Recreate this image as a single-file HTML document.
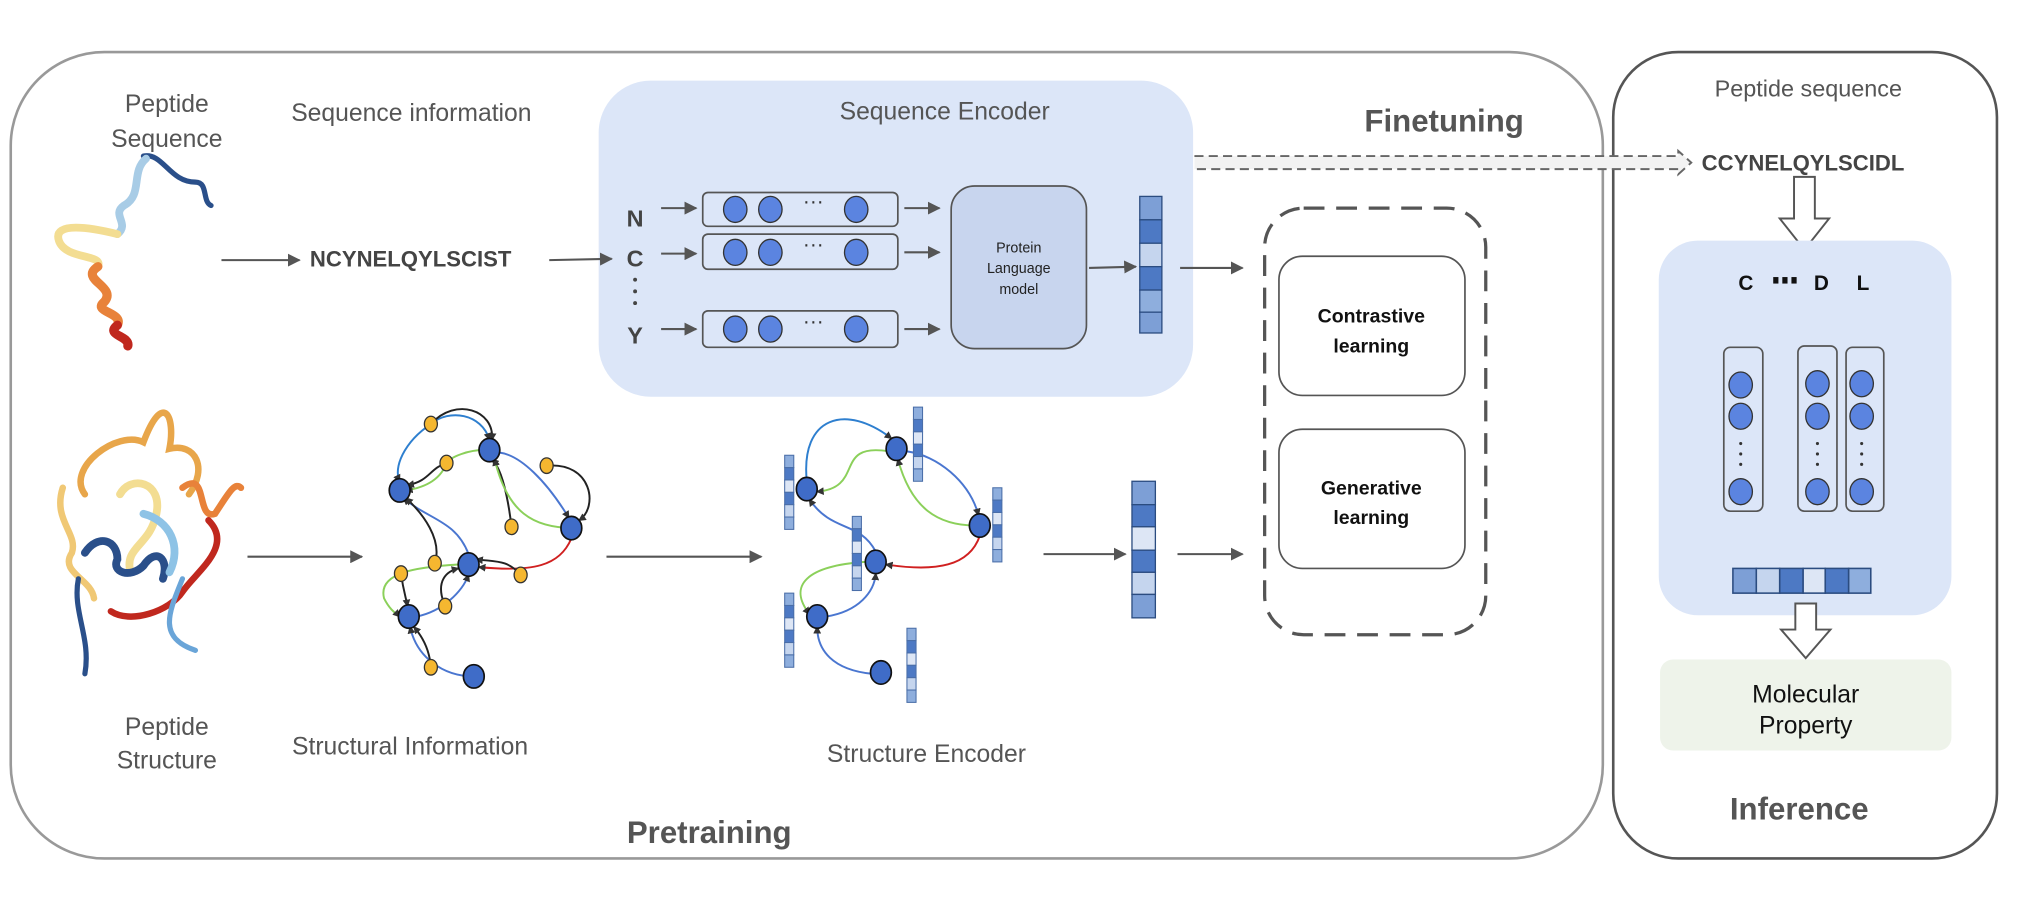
<!DOCTYPE html>
<html><head><meta charset="utf-8"><style>
html,body{margin:0;padding:0;background:#fff;}
svg{display:block;}
text{font-family:"Liberation Sans",sans-serif;}
</style></head><body>
<svg width="2022" height="904" viewBox="0 0 1554 695" xmlns="http://www.w3.org/2000/svg">
<defs>
<marker id="ah" markerWidth="10" markerHeight="10" refX="9" refY="5" orient="auto" markerUnits="userSpaceOnUse"><path d="M0,0 L10,5 L0,10 z" fill="#555"/></marker>
<marker id="sa" markerWidth="6" markerHeight="6" refX="5" refY="3" orient="auto" markerUnits="userSpaceOnUse"><path d="M0,0 L6,3 L0,6 z" fill="#333"/></marker>
</defs>
<rect width="1554" height="695" fill="#fff"/>
<rect x="8" y="40" width="1224" height="620" rx="72" fill="none" stroke="#999" stroke-width="2"/>
<rect x="1240" y="40" width="295" height="620" rx="50" fill="none" stroke="#555" stroke-width="2"/>
<rect x="460" y="62" width="457" height="243" rx="40" fill="#dce6f8"/>
<g fill="#555" font-size="19" text-anchor="middle">
<text x="128" y="86">Peptide</text><text x="128" y="113">Sequence</text>
<text x="316" y="93">Sequence information</text>
<text x="726" y="92">Sequence Encoder</text>
<text x="128" y="565">Peptide</text><text x="128" y="591">Structure</text>
<text x="315" y="580">Structural Information</text>
<text x="712" y="586">Structure Encoder</text>
<text x="1390" y="74" font-size="18">Peptide sequence</text>
</g>
<g fill="#555" font-size="24" font-weight="bold" text-anchor="middle">
<text x="1110" y="101">Finetuning</text>
<text x="545" y="648">Pretraining</text>
<text x="1383" y="630">Inference</text>
</g>
<g fill="none" stroke-linecap="round">
<path d="M110,120 C125,117 130,140 150,140 C160,140 155,155 162,158" stroke="#2a4f8a" stroke-width="4"/>
<path d="M112,122 C100,132 110,150 95,158 C85,165 100,172 90,180" stroke="#a8cce6" stroke-width="6"/>
<path d="M90,180 C70,175 40,170 45,185 C50,200 80,195 75,205" stroke="#f3dd92" stroke-width="6"/>
<path d="M75,205 C60,215 90,220 80,232 C70,240 95,240 90,250" stroke="#e8823a" stroke-width="7"/>
<path d="M90,250 C80,258 100,258 98,266" stroke="#c0281e" stroke-width="7"/>
</g>
<g stroke="#555" stroke-width="1.6" fill="none" marker-end="url(#ah)">
<line x1="170" y1="200" x2="230" y2="200"/>
<line x1="422" y1="200" x2="470" y2="199"/>
<line x1="508" y1="160" x2="535" y2="160"/>
<line x1="508" y1="195" x2="535" y2="195"/>
<line x1="508" y1="253" x2="535" y2="253"/>
<line x1="695" y1="160" x2="722" y2="160"/>
<line x1="695" y1="194" x2="722" y2="194"/>
<line x1="695" y1="253" x2="722" y2="253"/>
<line x1="837" y1="206" x2="873" y2="205"/>
<line x1="907" y1="206" x2="955" y2="206"/>
<line x1="190" y1="428" x2="278" y2="428"/>
<line x1="466" y1="428" x2="585" y2="428"/>
<line x1="802" y1="426" x2="865" y2="426"/>
<line x1="905" y1="426" x2="955" y2="426"/>
<line x1="1342" y1="232" x2="1342" y2="262"/>
<line x1="1400" y1="232" x2="1400" y2="262"/>
<line x1="1432" y1="232" x2="1432" y2="262"/>
<line x1="1337" y1="398" x2="1337" y2="428"/>
<line x1="1398" y1="398" x2="1398" y2="428"/>
<line x1="1431" y1="398" x2="1431" y2="428"/>
</g>
<text x="238" y="205" font-size="17" font-weight="bold" fill="#444">NCYNELQYLSCIST</text>
<g font-size="18" font-weight="bold" fill="#444" text-anchor="middle">
<text x="488" y="174">N</text><text x="488" y="205">C</text><text x="488" y="264">Y</text>
</g>
<g fill="#444"><circle cx="488" cy="215" r="1.5"/><circle cx="488" cy="224" r="1.5"/><circle cx="488" cy="233" r="1.5"/></g>
<g>
<rect x="540" y="148" width="150" height="26" rx="4" fill="#dce6f8" stroke="#555" stroke-width="1.3"/>
<rect x="540" y="180" width="150" height="27" rx="4" fill="#dce6f8" stroke="#555" stroke-width="1.3"/>
<rect x="540" y="239" width="150" height="28" rx="4" fill="#dce6f8" stroke="#555" stroke-width="1.3"/>
</g>
<g fill="#5b84e0" stroke="#333" stroke-width="1">
<ellipse cx="565" cy="161" rx="9" ry="10"/><ellipse cx="592" cy="161" rx="9" ry="10"/><ellipse cx="658" cy="161" rx="9" ry="10"/>
<ellipse cx="565" cy="194" rx="9" ry="10"/><ellipse cx="592" cy="194" rx="9" ry="10"/><ellipse cx="658" cy="194" rx="9" ry="10"/>
<ellipse cx="565" cy="253" rx="9" ry="10"/><ellipse cx="592" cy="253" rx="9" ry="10"/><ellipse cx="658" cy="253" rx="9" ry="10"/>
</g>
<g font-size="16" fill="#333" text-anchor="middle"><text x="625" y="160">···</text><text x="625" y="193">···</text><text x="625" y="252">···</text></g>
<rect x="731" y="143" width="104" height="125" rx="18" fill="#c8d5ee" stroke="#555" stroke-width="1.3"/>
<g font-size="11" fill="#222" text-anchor="middle"><text x="783" y="194">Protein</text><text x="783" y="210">Language</text><text x="783" y="226">model</text></g>
<g stroke="#2b4c80" stroke-width="1">
<rect x="876" y="151" width="17" height="18" fill="#7d9fd6"/><rect x="876" y="169" width="17" height="18" fill="#4d79c4"/>
<rect x="876" y="187" width="17" height="18" fill="#c5d5ee"/><rect x="876" y="205" width="17" height="18" fill="#4d79c4"/>
<rect x="876" y="223" width="17" height="17" fill="#8eaedd"/><rect x="876" y="240" width="17" height="16" fill="#7d9fd6"/>
</g>
<g stroke="#2b4c80" stroke-width="1">
<rect x="870" y="370" width="18" height="18" fill="#7d9fd6"/><rect x="870" y="388" width="18" height="17" fill="#4d79c4"/>
<rect x="870" y="405" width="18" height="18" fill="#dde6f5"/><rect x="870" y="423" width="18" height="17" fill="#4d79c4"/>
<rect x="870" y="440" width="18" height="17" fill="#c5d5ee"/><rect x="870" y="457" width="18" height="18" fill="#7d9fd6"/>
</g>
<rect x="972" y="160" width="170" height="328" rx="30" fill="none" stroke="#555" stroke-width="2.5" stroke-dasharray="16,9"/>
<rect x="983" y="197" width="143" height="107" rx="18" fill="#fff" stroke="#555" stroke-width="1.3"/>
<rect x="983" y="330" width="143" height="107" rx="18" fill="#fff" stroke="#555" stroke-width="1.3"/>
<g font-size="15" font-weight="bold" fill="#111" text-anchor="middle">
<text x="1054" y="248">Contrastive</text><text x="1054" y="271">learning</text>
<text x="1054" y="380">Generative</text><text x="1054" y="403">learning</text>
</g>
<path d="M918,120 L1290,120 L1290,116 L1300,125 L1290,134 L1290,130 L918,130" fill="#f2f2f2" stroke="#666" stroke-width="1.5" stroke-dasharray="7,4"/>
<text x="1308" y="131" font-size="17" font-weight="bold" fill="#444">CCYNELQYLSCIDL</text>
<path d="M1379,136 L1395,136 L1395,168 L1406,168 L1387,192 L1368,168 L1379,168 Z" fill="#fff" stroke="#555" stroke-width="1.5"/>
<rect x="1275" y="185" width="225" height="288" rx="30" fill="#dce6f8"/>
<g font-size="16" font-weight="bold" fill="#111" text-anchor="middle">
<text x="1342" y="223">C</text><text x="1400" y="223">D</text><text x="1432" y="223">L</text>
</g>
<g fill="#111"><rect x="1363" y="213" width="4" height="5"/><rect x="1370" y="213" width="4" height="5"/><rect x="1377" y="213" width="4" height="5"/></g>
<g fill="#dce6f8" stroke="#555" stroke-width="1.3">
<rect x="1325" y="267" width="30" height="126" rx="5"/><rect x="1382" y="266" width="30" height="127" rx="5"/><rect x="1419" y="267" width="29" height="126" rx="5"/>
</g>
<g fill="#5b84e0" stroke="#333" stroke-width="1">
<ellipse cx="1338" cy="296" rx="9" ry="10"/><ellipse cx="1338" cy="320" rx="9" ry="10"/><ellipse cx="1338" cy="378" rx="9" ry="10"/>
<ellipse cx="1397" cy="295" rx="9" ry="10"/><ellipse cx="1397" cy="320" rx="9" ry="10"/><ellipse cx="1397" cy="378" rx="9" ry="10"/>
<ellipse cx="1431" cy="295" rx="9" ry="10"/><ellipse cx="1431" cy="320" rx="9" ry="10"/><ellipse cx="1431" cy="378" rx="9" ry="10"/>
</g>
<g fill="#333">
<circle cx="1338" cy="341" r="1.2"/><circle cx="1338" cy="349" r="1.2"/><circle cx="1338" cy="357" r="1.2"/>
<circle cx="1397" cy="341" r="1.2"/><circle cx="1397" cy="349" r="1.2"/><circle cx="1397" cy="357" r="1.2"/>
<circle cx="1431" cy="341" r="1.2"/><circle cx="1431" cy="349" r="1.2"/><circle cx="1431" cy="357" r="1.2"/>
</g>
<g stroke="#2b4c80" stroke-width="1.2">
<rect x="1332" y="437" width="18" height="19" fill="#7d9fd6"/><rect x="1350" y="437" width="18" height="19" fill="#c5d5ee"/>
<rect x="1368" y="437" width="18" height="19" fill="#4d79c4"/><rect x="1386" y="437" width="17" height="19" fill="#dde6f5"/>
<rect x="1403" y="437" width="18" height="19" fill="#4d79c4"/><rect x="1421" y="437" width="17" height="19" fill="#8eaedd"/>
</g>
<path d="M1380,464 L1396,464 L1396,484 L1407,484 L1388,506 L1369,484 L1380,484 Z" fill="#fff" stroke="#555" stroke-width="1.5"/>
<rect x="1276" y="507" width="224" height="70" rx="10" fill="#eef3ea"/>
<g font-size="19" fill="#111" text-anchor="middle"><text x="1388" y="540">Molecular</text><text x="1388" y="564">Property</text></g>
<g fill="none" stroke-linecap="round">
<path d="M65,380 C50,360 90,330 110,340 C125,300 135,320 130,345 C150,340 160,360 145,380" stroke="#e8a64a" stroke-width="5"/>
<path d="M48,375 C40,400 60,410 55,425 C45,440 70,445 72,460" stroke="#f0c875" stroke-width="5"/>
<path d="M92,380 C100,365 125,370 120,395 C115,420 95,420 100,440" stroke="#f3dd92" stroke-width="6"/>
<path d="M140,375 C160,360 150,400 165,395 C175,380 180,370 185,375" stroke="#e8823a" stroke-width="5"/>
<path d="M160,400 C180,420 150,440 140,455 C130,470 100,480 85,470" stroke="#c0281e" stroke-width="5"/>
<path d="M65,425 C75,410 90,415 90,430 C85,440 100,445 110,435 C120,420 130,430 125,445" stroke="#2a4f8a" stroke-width="6"/>
<path d="M110,395 C130,400 140,420 130,440" stroke="#8ec3e6" stroke-width="6"/>
<path d="M60,445 C55,470 70,490 65,518" stroke="#2a4f8a" stroke-width="4"/>
<path d="M140,445 C130,470 120,490 150,500" stroke="#6aa5d8" stroke-width="4"/>
</g>
<g fill="none" stroke-width="1.5" marker-end="url(#sa)">
<path d="M331,326 C345,314 370,318 376,338" stroke="#2e7fcf"/>
<path d="M331,326 C310,340 302,360 307,370" stroke="#2e7fcf"/>
<path d="M331,326 C350,305 380,315 378,338" stroke="#222"/>
<path d="M376,346 C360,345 345,352 343,356 C338,370 325,375 312,377" stroke="#8bd05a"/>
<path d="M343,356 C330,360 330,370 313,373" stroke="#222"/>
<path d="M384,348 C400,350 420,370 437,398" stroke="#4a76d0"/>
<path d="M420,358 C455,355 460,390 445,400" stroke="#222"/>
<path d="M393,405 C390,380 385,360 378,353" stroke="#222"/>
<path d="M439,406 C410,405 390,395 380,353" stroke="#8bd05a"/>
<path d="M439,414 C430,435 410,440 368,436" stroke="#d02020"/>
<path d="M400,442 C390,430 380,432 366,430" stroke="#222"/>
<path d="M360,426 C350,400 330,400 310,383" stroke="#4a76d0"/>
<path d="M334,433 C340,415 325,395 312,383" stroke="#222"/>
<path d="M352,434 C320,436 290,440 295,460 C300,470 305,472 307,474" stroke="#8bd05a"/>
<path d="M308,441 C310,455 312,460 313,466" stroke="#222"/>
<path d="M320,474 C340,470 355,455 360,442" stroke="#4a76d0"/>
<path d="M342,466 C335,450 340,440 352,437" stroke="#222"/>
<path d="M364,520 C340,520 320,505 315,482" stroke="#4a76d0"/>
<path d="M331,513 C330,500 325,490 318,482" stroke="#222"/>
</g>
<g fill="#3f6cc8" stroke="#111" stroke-width="1.3">
<ellipse cx="376" cy="346" rx="8" ry="9"/><ellipse cx="307" cy="377" rx="8" ry="9"/><ellipse cx="439" cy="406" rx="8" ry="9"/>
<ellipse cx="360" cy="434" rx="8" ry="9"/><ellipse cx="314" cy="474" rx="8" ry="9"/><ellipse cx="364" cy="520" rx="8" ry="9"/>
</g>
<g fill="#f5b730" stroke="#333" stroke-width="1">
<ellipse cx="331" cy="326" rx="5" ry="6"/><ellipse cx="343" cy="356" rx="5" ry="6"/><ellipse cx="420" cy="358" rx="5" ry="6"/>
<ellipse cx="393" cy="405" rx="5" ry="6"/><ellipse cx="334" cy="433" rx="5" ry="6"/><ellipse cx="308" cy="441" rx="5" ry="6"/>
<ellipse cx="400" cy="442" rx="5" ry="6"/><ellipse cx="342" cy="466" rx="5" ry="6"/><ellipse cx="331" cy="513" rx="5" ry="6"/>
</g>
<g fill="none" stroke-width="1.5" marker-end="url(#sa)">
<path d="M620,370 C615,320 650,310 685,337" stroke="#2e7fcf"/>
<path d="M683,347 C640,340 665,375 628,378" stroke="#8bd05a"/>
<path d="M697,347 C720,350 745,370 752,396" stroke="#4a76d0"/>
<path d="M753,404 C720,405 700,390 690,353" stroke="#8bd05a"/>
<path d="M753,412 C745,435 720,440 681,434" stroke="#d02020"/>
<path d="M673,424 C660,400 640,410 622,384" stroke="#4a76d0"/>
<path d="M665,432 C620,435 605,450 622,472" stroke="#8bd05a"/>
<path d="M635,474 C660,470 672,455 673,441" stroke="#4a76d0"/>
<path d="M670,518 C640,515 628,500 628,482" stroke="#4a76d0"/>
</g>
<g fill="#3f6cc8" stroke="#111" stroke-width="1.3">
<ellipse cx="689" cy="345" rx="8" ry="9"/><ellipse cx="620" cy="376" rx="8" ry="9"/><ellipse cx="753" cy="404" rx="8" ry="9"/>
<ellipse cx="673" cy="432" rx="8" ry="9"/><ellipse cx="628" cy="474" rx="8" ry="9"/><ellipse cx="677" cy="517" rx="8" ry="9"/>
</g>
<g stroke="#4a6ea8" stroke-width="0.8">
<g transform="translate(702,313)"><rect width="7" height="9.5" fill="#8eaedd"/><rect y="9.5" width="7" height="9.5" fill="#4d79c4"/><rect y="19" width="7" height="9.5" fill="#dde6f5"/><rect y="28.5" width="7" height="9.5" fill="#4d79c4"/><rect y="38" width="7" height="9.5" fill="#c5d5ee"/><rect y="47.5" width="7" height="9.5" fill="#8eaedd"/></g>
<g transform="translate(603,350)"><rect width="7" height="9.5" fill="#8eaedd"/><rect y="9.5" width="7" height="9.5" fill="#4d79c4"/><rect y="19" width="7" height="9.5" fill="#dde6f5"/><rect y="28.5" width="7" height="9.5" fill="#4d79c4"/><rect y="38" width="7" height="9.5" fill="#c5d5ee"/><rect y="47.5" width="7" height="9.5" fill="#8eaedd"/></g>
<g transform="translate(763,375)"><rect width="7" height="9.5" fill="#8eaedd"/><rect y="9.5" width="7" height="9.5" fill="#4d79c4"/><rect y="19" width="7" height="9.5" fill="#dde6f5"/><rect y="28.5" width="7" height="9.5" fill="#4d79c4"/><rect y="38" width="7" height="9.5" fill="#c5d5ee"/><rect y="47.5" width="7" height="9.5" fill="#8eaedd"/></g>
<g transform="translate(655,397)"><rect width="7" height="9.5" fill="#8eaedd"/><rect y="9.5" width="7" height="9.5" fill="#4d79c4"/><rect y="19" width="7" height="9.5" fill="#dde6f5"/><rect y="28.5" width="7" height="9.5" fill="#4d79c4"/><rect y="38" width="7" height="9.5" fill="#c5d5ee"/><rect y="47.5" width="7" height="9.5" fill="#8eaedd"/></g>
<g transform="translate(603,456)"><rect width="7" height="9.5" fill="#8eaedd"/><rect y="9.5" width="7" height="9.5" fill="#4d79c4"/><rect y="19" width="7" height="9.5" fill="#dde6f5"/><rect y="28.5" width="7" height="9.5" fill="#4d79c4"/><rect y="38" width="7" height="9.5" fill="#c5d5ee"/><rect y="47.5" width="7" height="9.5" fill="#8eaedd"/></g>
<g transform="translate(697,483)"><rect width="7" height="9.5" fill="#8eaedd"/><rect y="9.5" width="7" height="9.5" fill="#4d79c4"/><rect y="19" width="7" height="9.5" fill="#dde6f5"/><rect y="28.5" width="7" height="9.5" fill="#4d79c4"/><rect y="38" width="7" height="9.5" fill="#c5d5ee"/><rect y="47.5" width="7" height="9.5" fill="#8eaedd"/></g>
</g>
</svg>
</body></html>
